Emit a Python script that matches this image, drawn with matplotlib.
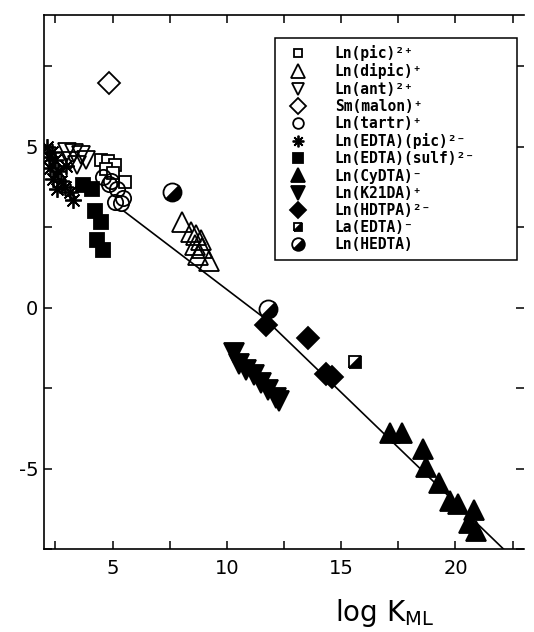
import matplotlib
matplotlib.use("Agg")
import matplotlib.pyplot as plt
from matplotlib.markers import MarkerStyle
from matplotlib.ticker import MultipleLocator
from matplotlib.transforms import Affine2D

plt.rcParams["mathtext.default"] = "regular"
plt.rcParams["axes.unicode_minus"] = False
plt.rcParams["font.family"] = "DejaVu Sans"

# --- data -------------------------------------------------------------------
pic_x = [4.5, 4.8, 5.1, 4.7, 5.55, 5.0]
pic_y = [4.6, 4.55, 4.45, 4.3, 3.9, 4.2]

dipic_x = [8.05, 8.45, 8.65, 8.85, 8.6, 8.9, 8.75, 9.2]
dipic_y = [2.65, 2.35, 2.25, 2.1, 1.95, 1.85, 1.65, 1.45]

ant_x = [3.0, 3.3, 3.6, 3.85, 3.45, 3.15]
ant_y = [4.85, 4.8, 4.75, 4.6, 4.45, 4.55]

malon_x = [4.85]
malon_y = [7.0]

tartr_x = [4.6, 4.85, 5.2, 5.1, 5.35, 5.45, 4.95]
tartr_y = [4.05, 3.85, 3.7, 3.3, 3.25, 3.4, 3.95]

edta_pic_x = [2.15, 2.35, 2.5, 2.25, 2.6, 2.4, 2.75, 2.9, 3.15, 3.25, 2.55, 2.95, 2.2]
edta_pic_y = [5.0, 4.85, 4.6, 4.35, 4.25, 4.0, 3.95, 3.75, 3.6, 3.35, 3.7, 4.4, 4.7]

edta_sulf_x = [3.7, 4.1, 4.23, 4.5, 4.32, 4.58]
edta_sulf_y = [3.8, 3.7, 3.0, 2.66, 2.1, 1.8]

cydta_x = [17.15, 17.65, 18.6, 18.7, 19.3, 19.75, 20.1, 20.8, 20.6, 20.9]
cydta_y = [-3.9, -3.9, -4.4, -4.95, -5.45, -6.0, -6.1, -6.3, -6.7, -6.95]

k21da_x = [10.33, 10.55, 10.85, 11.2, 11.5, 11.8, 12.15, 12.3]
k21da_y = [-1.42, -1.75, -1.95, -2.1, -2.35, -2.55, -2.8, -2.9]

hdtpa_x = [11.73, 13.53, 14.35, 14.6]
hdtpa_y = [-0.55, -0.95, -2.05, -2.15]

la_edta_x = [15.6]
la_edta_y = [-1.7]

hedta_x = [7.62, 11.78]
hedta_y = [3.6, -0.05]

# fitted line as traced on the scan
fit_x = [5.5, 11.6, 22.1]
fit_y = [3.0, -0.3, -7.5]

labels = [
    "Ln(pic)²⁺",
    "Ln(dipic)⁺",
    "Ln(ant)²⁺",
    "Sm(malon)⁺",
    "Ln(tartr)⁺",
    "Ln(EDTA)(pic)²⁻",
    "Ln(EDTA)(sulf)²⁻",
    "Ln(CyDTA)⁻",
    "Ln(K21DA)⁺",
    "Ln(HDTPA)²⁻",
    "La(EDTA)⁻",
    "Ln(HEDTA)",
]

# --- figure -----------------------------------------------------------------
fig = plt.figure(figsize=(5.34, 6.32), dpi=100)
ax = fig.add_axes([0.0824, 0.1313, 0.899, 0.845])

half_circle = MarkerStyle("o", fillstyle="bottom",
                          transform=Affine2D().rotate_deg(45))
half_square = MarkerStyle("D", fillstyle="bottom",
                          transform=Affine2D().rotate_deg(45))

series = [
    (pic_x, pic_y, dict(marker="s", ms=9, mfc="white")),
    (dipic_x, dipic_y, dict(marker="^", ms=14, mfc="none")),
    (ant_x, ant_y, dict(marker="v", ms=13, mfc="none")),
    (malon_x, malon_y, dict(marker="D", ms=11, mfc="white")),
    (tartr_x, tartr_y, dict(marker="o", ms=11, mfc="none")),
    (edta_pic_x, edta_pic_y, dict(marker=(8, 2, 0), ms=12)),
    (edta_sulf_x, edta_sulf_y, dict(marker="s", ms=10, mfc="black")),
    (cydta_x, cydta_y, dict(marker="^", ms=15, mfc="black")),
    (k21da_x, k21da_y, dict(marker="v", ms=15, mfc="black")),
    (hdtpa_x, hdtpa_y, dict(marker="D", ms=11, mfc="black")),
    (la_edta_x, la_edta_y, dict(marker=half_square, ms=9, mfc="black",
                                mfcalt="white")),
    (hedta_x, hedta_y, dict(marker=half_circle, ms=13, mfc="black",
                            mfcalt="white")),
]

ax.plot(fit_x, fit_y, color="black", lw=1.2, zorder=1)

handles = []
for (xs, ys, style), label in zip(series, labels):
    (h,) = ax.plot(xs, ys, linestyle="none", mec="black", mew=1.3,
                   label=label, zorder=3, **style)
    handles.append(h)

ax.set_xlim(2, 23)
ax.set_ylim(-7.5, 9.1)
ax.xaxis.set_major_locator(MultipleLocator(5))
ax.xaxis.set_minor_locator(MultipleLocator(2.5))
ax.yaxis.set_major_locator(MultipleLocator(5))
ax.yaxis.set_minor_locator(MultipleLocator(2.5))
ax.tick_params(which="both", direction="in", length=6, width=1.1,
               top=True, right=True, labelsize=14)
ax.tick_params(axis="x", pad=7)
ax.tick_params(axis="y", pad=4)
ax.spines["right"].set_visible(False)
for side in ("left", "top", "bottom"):
    ax.spines[side].set_linewidth(1.2)

leg = ax.legend(
    handles=handles,
    loc="upper left",
    bbox_to_anchor=(0.481, 0.545, 0.504, 0.412),
    mode="expand",
    prop={"family": ["DejaVu Sans Mono", "DejaVu Sans"], "weight": "bold",
          "size": 10.5},
    markerscale=0.7,
    handlelength=2.1,
    handletextpad=1.5,
    labelspacing=0.15,
    borderpad=0.5,
    borderaxespad=0,
    fancybox=False,
    framealpha=1,
    edgecolor="black",
)
leg.get_frame().set_linewidth(1.1)

fig.text(0.627, 0.004, r"log K$_{ML}$", ha="left", va="bottom", fontsize=20)

fig.savefig("out.png", dpi=100)
